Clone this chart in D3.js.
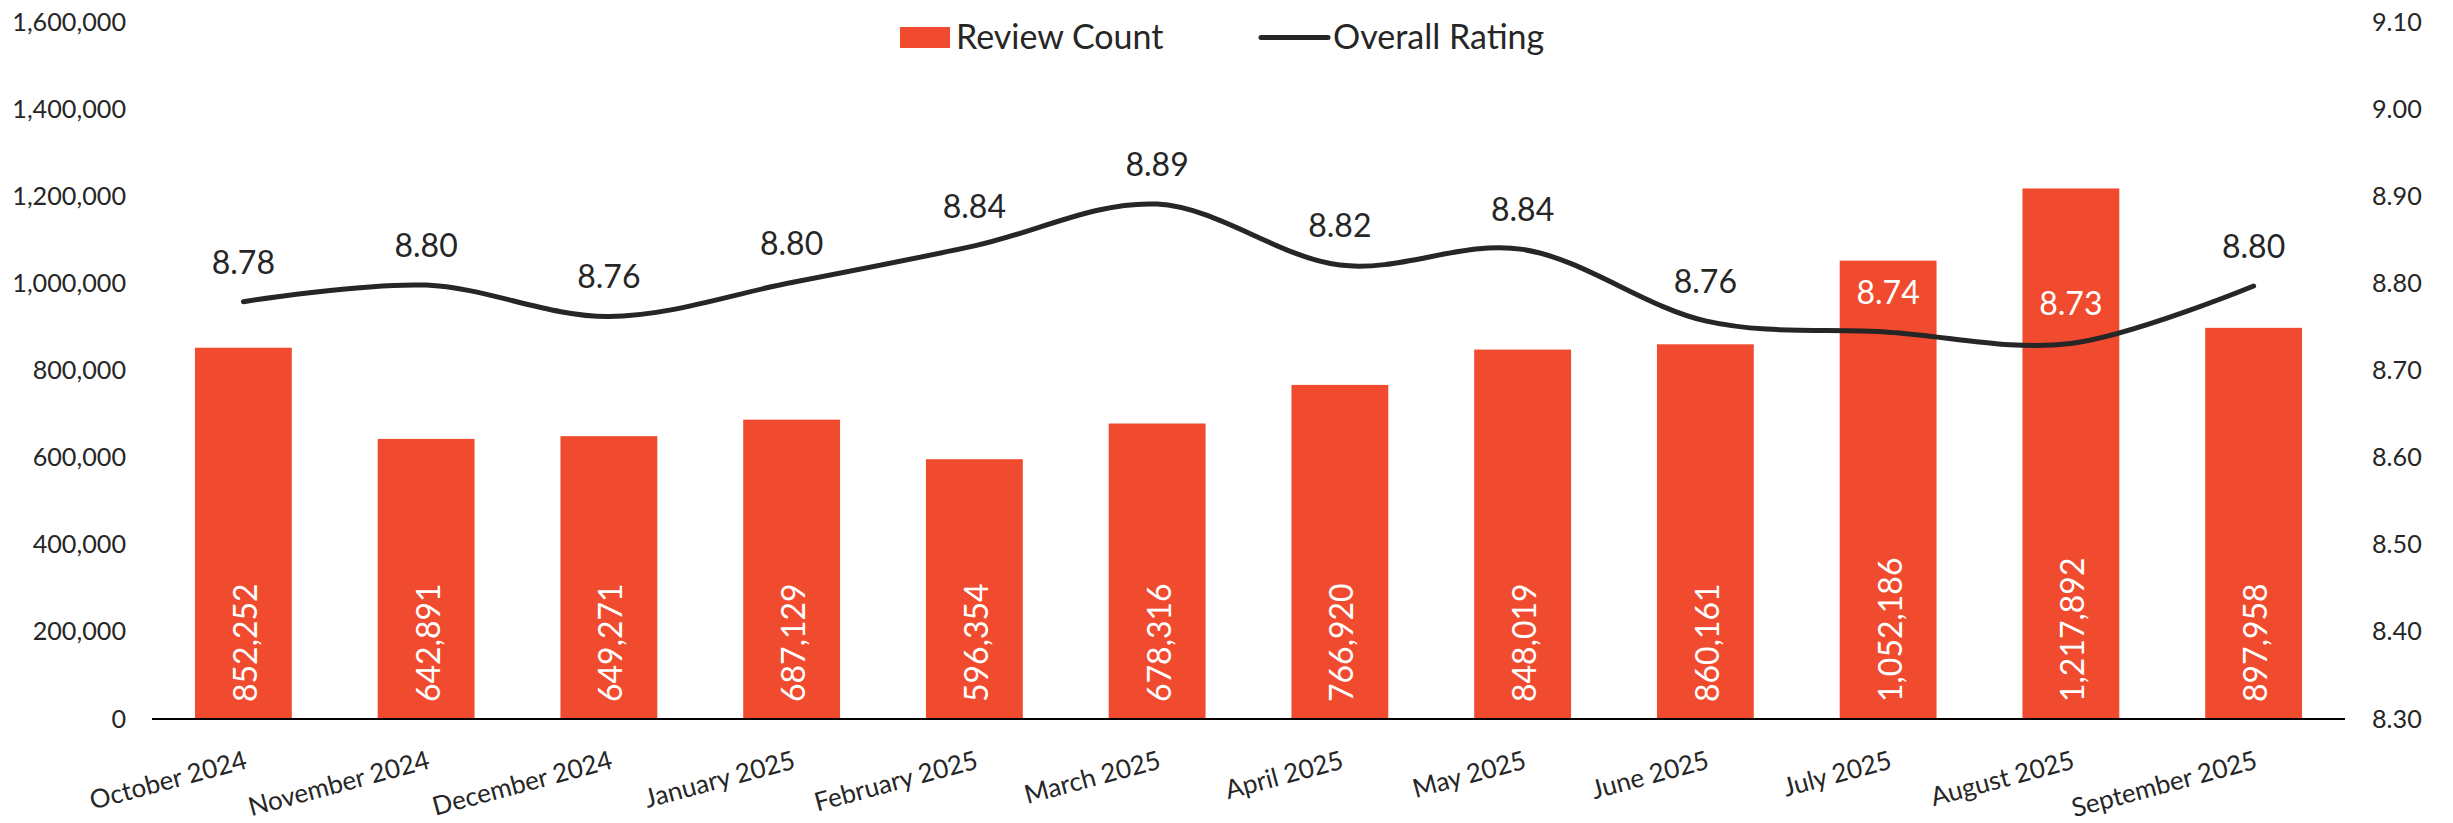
<!DOCTYPE html>
<html>
<head>
<meta charset="utf-8">
<script src="https://cdn.jsdelivr.net/npm/d3@7"></script>
<style>
  body { margin: 0; background: #fff; }
  svg { font-family: Lato, "Open Sans", sans-serif; }
</style>
</head>
<body>
<svg id="chart" width="2453" height="823"></svg>
<script>
const months = ["October 2024", "November 2024", "December 2024", "January 2025", "February 2025", "March 2025",
  "April 2025", "May 2025", "June 2025", "July 2025", "August 2025", "September 2025"]
const reviewCount = [852252, 642891, 649271, 687129, 596354, 678316, 766920, 848019, 860161, 1052186, 1217892, 897958]
const overallRating = [8.779, 8.798, 8.762, 8.801, 8.843, 8.891, 8.821, 8.839, 8.757, 8.744, 8.731, 8.797]
const leftTicks = [0, 200000, 400000, 600000, 800000, 1000000, 1200000, 1400000, 1600000]
const rightTicks = [8.3, 8.4, 8.5, 8.6, 8.7, 8.8, 8.9, 9.0, 9.1]

const svg = d3.select("#chart")
const barColor = "#F04B2F"
const textColor = "#262626"

const plotLeft = 152, plotRight = 2345, plotTop = 22, plotBottom = 719

const x = d3.scaleBand()
  .domain(months)
  .range([plotLeft, plotRight])
  .paddingInner(0.47)
  .paddingOuter(0.235)

const y = d3.scaleLinear().domain([0, 1600000]).range([plotBottom, plotTop])
const y2 = d3.scaleLinear().domain([8.3, 9.1]).range([plotBottom, plotTop])

const data = months.map((m, i) => ({ month: m, count: reviewCount[i], rating: overallRating[i] }))

// left axis
const yAxis = d3.axisLeft(y).tickValues(leftTicks).tickFormat(d3.format(",")).tickSize(0).tickPadding(0)
const gy = svg.append("g").attr("transform", "translate(126,0)").call(yAxis)
gy.select(".domain").remove()
gy.selectAll("text").attr("font-size", 25.2).attr("fill", textColor).attr("font-family", "Lato")

// right axis
const y2Axis = d3.axisRight(y2).tickValues(rightTicks).tickFormat(d3.format(".2f")).tickSize(0).tickPadding(0)
const gy2 = svg.append("g").attr("transform", "translate(2372,0)").call(y2Axis)
gy2.select(".domain").remove()
gy2.selectAll("text").attr("font-size", 25.2).attr("fill", textColor).attr("font-family", "Lato")

// bars
svg.append("g").selectAll("rect")
  .data(data)
  .enter()
  .append("rect")
  .attr("x", d => x(d.month))
  .attr("y", d => y(d.count))
  .attr("width", x.bandwidth())
  .attr("height", d => plotBottom - y(d.count))
  .attr("fill", barColor)

// baseline
svg.append("line")
  .attr("x1", plotLeft).attr("x2", plotRight)
  .attr("y1", plotBottom).attr("y2", plotBottom)
  .attr("stroke", "#000").attr("stroke-width", 2)

// bar value labels
svg.append("g").selectAll("text")
  .data(data)
  .enter()
  .append("text")
  .attr("transform", d => `translate(${x(d.month) + x.bandwidth() / 2 + 1},${plotBottom - 17}) rotate(-90)`)
  .attr("dominant-baseline", "central")
  .attr("font-size", 32)
  .attr("fill", "#fff")
  .text(d => d3.format(",")(d.count))

// x labels
svg.append("g").selectAll("text")
  .data(data)
  .enter()
  .append("text")
  .attr("transform", d => `translate(${x(d.month) + x.bandwidth() / 2 + 5},${plotBottom + 49}) rotate(-15)`)
  .attr("text-anchor", "end")
  .attr("font-size", 26)
  .attr("fill", textColor)
  .text(d => d.month)

// rating line
const line = d3.line()
  .x(d => x(d.month) + x.bandwidth() / 2)
  .y(d => y2(d.rating))
  .curve(d3.curveCardinal.tension(0))

svg.append("path")
  .datum(data)
  .attr("d", line)
  .attr("fill", "none")
  .attr("stroke", textColor)
  .attr("stroke-width", 5)
  .attr("stroke-linecap", "round")

// rating labels (white when sitting on a bar)
svg.append("g").selectAll("text")
  .data(data)
  .enter()
  .append("text")
  .attr("x", d => x(d.month) + x.bandwidth() / 2)
  .attr("y", d => y2(d.rating) - 28)
  .attr("text-anchor", "middle")
  .attr("font-size", 32)
  .attr("fill", d => (y2(d.rating) - 50 > y(d.count)) ? "#fff" : textColor)
  .text(d => d.rating.toFixed(2))

// legend
const legend = svg.append("g")
legend.append("rect")
  .attr("x", 900).attr("y", 27).attr("width", 50).attr("height", 21)
  .attr("fill", barColor)
legend.append("text")
  .attr("x", 956).attr("y", 49)
  .attr("font-size", 34).attr("fill", textColor)
  .text("Review Count")
legend.append("line")
  .attr("x1", 1261).attr("x2", 1328).attr("y1", 37.5).attr("y2", 37.5)
  .attr("stroke", textColor).attr("stroke-width", 5).attr("stroke-linecap", "round")
legend.append("text")
  .attr("x", 1333).attr("y", 49)
  .attr("font-size", 34).attr("fill", textColor)
  .text("Overall Rating")
</script>
</body>
</html>
